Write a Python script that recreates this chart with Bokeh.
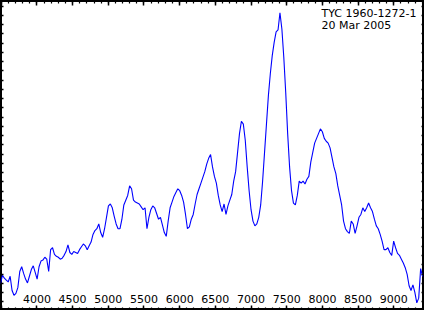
from bokeh.plotting import figure
from bokeh.models import LinearAxis, SingleIntervalTicker, FixedTicker, Label, CustomLabelingPolicy
from bokeh.embed import file_html
from bokeh.resources import INLINE

# ---- data ----
wavelength = [
    3490, 3517, 3544, 3571, 3598, 3625, 3652, 3679, 3706, 3733,
    3760, 3787, 3814, 3841, 3868, 3895, 3922, 3949, 3976, 4003,
    4030, 4057, 4084, 4111, 4138, 4165, 4192, 4219, 4246, 4273,
    4300, 4327, 4354, 4381, 4408, 4435, 4462, 4489, 4516, 4543,
    4570, 4597, 4624, 4651, 4678, 4705, 4732, 4759, 4786, 4813,
    4840, 4867, 4894, 4921, 4948, 4975, 5002, 5029, 5056, 5083,
    5110, 5137, 5164, 5191, 5218, 5245, 5272, 5299, 5326, 5353,
    5380, 5407, 5434, 5461, 5488, 5515, 5542, 5569, 5596, 5623,
    5650, 5677, 5704, 5731, 5758, 5785, 5812, 5839, 5866, 5893,
    5920, 5947, 5974, 6001, 6028, 6055, 6082, 6109, 6136, 6163,
    6190, 6217, 6244, 6271, 6298, 6325, 6352, 6379, 6406, 6433,
    6460, 6487, 6514, 6541, 6568, 6595, 6622, 6649, 6676, 6703,
    6730, 6757, 6784, 6811, 6838, 6865, 6892, 6919, 6946, 6973,
    7000, 7027, 7054, 7081, 7108, 7135, 7162, 7189, 7216, 7243,
    7270, 7297, 7324, 7351, 7378, 7405, 7432, 7459, 7486, 7513,
    7540, 7567, 7594, 7621, 7648, 7675, 7702, 7729, 7756, 7783,
    7810, 7837, 7864, 7891, 7918, 7945, 7972, 7999, 8026, 8053,
    8080, 8107, 8134, 8161, 8188, 8215, 8242, 8269, 8296, 8323,
    8350, 8377, 8404, 8431, 8458, 8485, 8512, 8539, 8566, 8593,
    8620, 8647, 8674, 8701, 8728, 8755, 8782, 8809, 8836, 8863,
    8890, 8917, 8944, 8971, 8998, 9025, 9052, 9079, 9106, 9133,
    9160, 9187, 9214, 9241, 9268, 9295, 9322, 9349, 9376, 9403,
]
flux = [
    2.8, 3.7, 3.4, 3.2, 3.0, 3.6, 2.1, 1.6, 1.8, 2.4,
    4.1, 4.6, 3.9, 3.3, 2.9, 3.6, 4.3, 4.7, 4.0, 3.3,
    4.6, 5.2, 5.3, 5.6, 5.4, 4.1, 6.4, 6.6, 5.9, 5.7,
    5.6, 5.4, 5.5, 5.8, 6.2, 6.9, 6.1, 5.9, 6.2, 6.1,
    6.0, 6.4, 6.7, 7.0, 6.8, 6.4, 6.8, 7.2, 8.0, 8.4,
    8.6, 9.1, 8.2, 7.7, 8.6, 9.8, 11.0, 11.2, 10.8, 9.9,
    9.1, 8.6, 8.6, 9.6, 11.1, 11.6, 12.1, 13.1, 12.8, 11.6,
    11.4, 11.3, 11.2, 10.9, 10.6, 10.8, 8.6, 9.8, 10.6, 11.0,
    10.8, 10.2, 9.6, 9.8, 9.0, 8.2, 7.8, 9.4, 10.8, 11.4,
    12.0, 12.4, 12.8, 12.6, 12.1, 11.4, 10.1, 8.6, 8.8, 9.6,
    10.1, 11.2, 12.2, 12.8, 13.4, 14.0, 14.6, 15.4, 16.0, 16.4,
    15.1, 14.1, 13.4, 12.1, 11.1, 10.4, 11.2, 10.1, 11.0, 11.6,
    12.2, 13.6, 14.6, 16.6, 18.6, 19.9, 19.6, 17.9, 15.1, 12.6,
    10.6, 9.4, 8.9, 9.1, 9.8, 11.1, 13.6, 16.6, 19.6, 22.6,
    24.9, 26.8, 28.2, 29.3, 29.5, 31.3, 29.6, 26.6, 22.9, 18.6,
    15.1, 12.6, 11.3, 11.1, 12.1, 13.6, 13.4, 13.6, 13.3, 13.8,
    14.1, 15.6, 16.6, 17.6, 18.1, 18.6, 19.1, 18.8, 18.1, 17.8,
    17.6, 17.1, 16.1, 15.1, 14.4, 13.1, 12.1, 11.1, 9.4, 8.6,
    8.3, 8.1, 9.4, 9.1, 8.1, 8.9, 9.8, 10.1, 10.8, 10.4,
    10.8, 11.3, 10.8, 10.4, 9.6, 8.9, 8.6, 8.0, 7.3, 6.4,
    6.4, 6.6, 6.1, 5.8, 7.3, 6.6, 6.0, 5.8, 5.4, 5.0,
    4.5, 3.8, 2.6, 2.1, 2.7, 1.9, 0.8, 1.3, 4.4, 3.6,
]
x_tick_values = [4000, 4500, 5000, 5500, 6000, 6500, 7000, 7500, 8000, 8500, 9000]
x_tick_labels = ["4000", "4500", "5000", "5500", "6000", "6500", "7000", "7500", "8000", "8500", "9000"]
title_lines = ["TYC 1960-1272-1", "20 Mar 2005"]

W, H = 424, 310
FONT = "DejaVu Sans"

p = figure(width=W, height=H, x_range=(3490, 9430), y_range=(0, 32.6),
           output_backend="svg", toolbar_location=None,
           x_axis_location=None, y_axis_location=None,
           min_border=0, background_fill_color="white", border_fill_color="white")
p.xgrid.visible = False
p.ygrid.visible = False
p.outline_line_color = "black"
p.outline_line_width = 3

y_ticks = [0.9 + 0.972 * k for k in range(34)]


def make_axis(ticker, major_len, minor_len):
    no_labels = CustomLabelingPolicy(code="return new Set()")
    return LinearAxis(ticker=ticker,
                      major_tick_in=major_len, major_tick_out=0,
                      minor_tick_in=minor_len, minor_tick_out=0,
                      major_tick_line_color="black", minor_tick_line_color="black",
                      major_tick_line_width=1.5, minor_tick_line_width=1.2,
                      major_label_text_font_size="0px", major_label_standoff=0,
                      major_label_policy=no_labels,
                      axis_line_color=None)


for side in ["below", "above"]:
    ax = make_axis(SingleIntervalTicker(interval=500, num_minor_ticks=5), 5, 3)
    p.add_layout(ax, side)
for side in ["left", "right"]:
    ax = make_axis(FixedTicker(ticks=y_ticks, minor_ticks=[]), 3, 0)
    p.add_layout(ax, side)

p.line(wavelength, flux, line_color="#0000ff", line_width=1.1)

for xv, lab in zip(x_tick_values, x_tick_labels):
    p.add_layout(Label(x=xv, y=11.5, y_units="screen", text=lab,
                       text_align="center", text_baseline="middle",
                       text_font=FONT, text_font_size="11px", text_color="black"))

for i, t in enumerate(title_lines):
    p.add_layout(Label(x=321, y=H - 6 - 12 * i, x_units="screen", y_units="screen", text=t,
                       text_align="left", text_baseline="top",
                       text_font=FONT, text_font_size="11px", text_color="black"))

open("out.html", "w").write(file_html(p, INLINE))
